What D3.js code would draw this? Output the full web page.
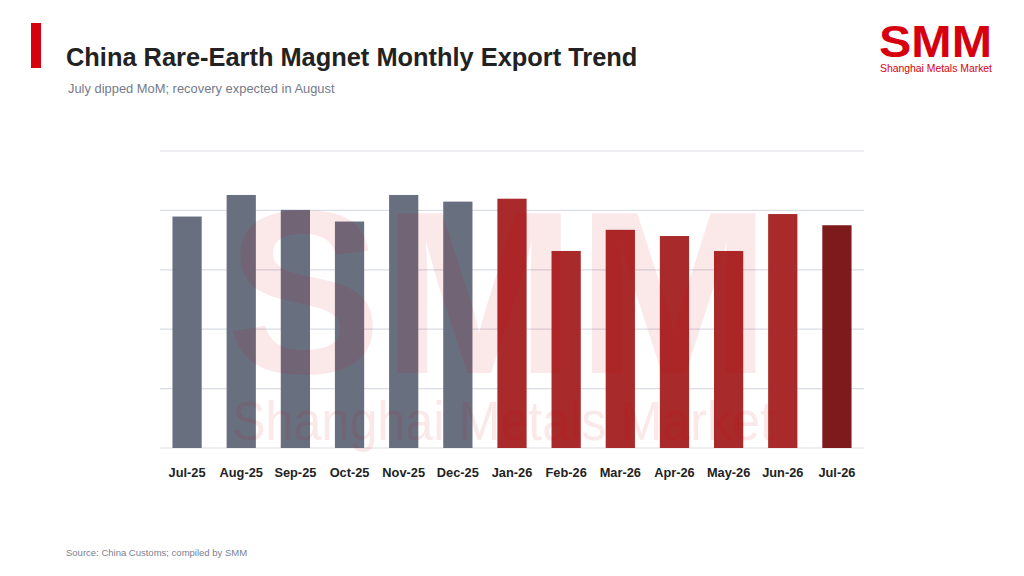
<!DOCTYPE html>
<html>
<head>
<meta charset="utf-8">
<script src="https://cdn.jsdelivr.net/npm/d3@7"></script>
<style>
  body { margin: 0; background: #fff; }
  svg { display: block; font-family: "Liberation Sans", Arial, sans-serif; }
</style>
</head>
<body>
<div class="chart"></div>
<script>
// monthly exports, tonnes
const months = ['Jul-25','Aug-25','Sep-25','Oct-25','Nov-25','Dec-25','Jan-26','Feb-26','Mar-26','Apr-26','May-26','Jun-26','Jul-26'];
const exportsT = [5580, 6100, 5740, 5460, 6100, 5940, 6010, 4750, 5260, 5110, 4750, 5640, 5370];
const gridTicks = [0, 1432, 2864, 4296, 5728, 7160];

const width = 1024, height = 576;
const margin = {top: 151, right: 160, bottom: 128, left: 160};

const svg = d3.select('.chart')
    .append('svg')
    .attr('width', width)
    .attr('height', height);

// header
svg.append('rect')
    .attr('x', 31).attr('y', 23)
    .attr('width', 10).attr('height', 45)
    .attr('fill', '#d7000f');

svg.append('text')
    .attr('x', 66).attr('y', 66)
    .attr('font-size', 25.4).attr('font-weight', 'bold')
    .attr('fill', '#222')
    .text('China Rare-Earth Magnet Monthly Export Trend');

svg.append('text')
    .attr('x', 68).attr('y', 93)
    .attr('font-size', 12.9)
    .attr('fill', '#747a8a')
    .text('July dipped MoM; recovery expected in August');

// logo top right
svg.append('text')
    .attr('x', 879).attr('y', 57)
    .attr('font-size', 44).attr('font-weight', 'bold')
    .attr('textLength', 113).attr('lengthAdjust', 'spacingAndGlyphs')
    .attr('fill', '#d7000f')
    .text('SMM');

svg.append('text')
    .attr('x', 880).attr('y', 72)
    .attr('font-size', 11)
    .attr('textLength', 112).attr('lengthAdjust', 'spacingAndGlyphs')
    .attr('fill', '#d7000f')
    .text('Shanghai Metals Market');

// scales
const x = d3.scaleBand()
    .domain(months)
    .range([margin.left, width - margin.right])
    .paddingInner(0.46)
    .paddingOuter(0.23);

const y = d3.scaleLinear()
    .domain([0, gridTicks[gridTicks.length - 1]])
    .range([height - margin.bottom, margin.top]);

// gridlines
svg.append('g')
    .selectAll('line')
    .data(gridTicks)
    .join('line')
    .attr('x1', margin.left)
    .attr('x2', width - margin.right)
    .attr('y1', d => y(d))
    .attr('y2', d => y(d))
    .attr('stroke', '#dadde6')
    .attr('stroke-width', 1.2);

// bars: 2025 grey, 2026 red, latest month dark red
function barColor(m, i) {
    if (i === months.length - 1) return '#7e1a1c';
    return m.endsWith('-25') ? '#687080' : '#a92a2a';
}

svg.append('g')
    .selectAll('rect')
    .data(months)
    .join('rect')
    .attr('x', d => x(d))
    .attr('y', (d, i) => y(exportsT[i]))
    .attr('width', x.bandwidth())
    .attr('height', (d, i) => y(0) - y(exportsT[i]))
    .attr('fill', (d, i) => barColor(d, i));

// x axis labels
const xAxis = svg.append('g')
    .attr('transform', `translate(0,${y(0)})`)
    .call(d3.axisBottom(x).tickSize(0).tickPadding(20));
xAxis.select('.domain').remove();
xAxis.selectAll('text')
    .attr('font-family', '"Liberation Sans", Arial, sans-serif')
    .attr('font-size', 12.8)
    .attr('font-weight', 'bold')
    .attr('fill', '#222');

// watermark on top, very faint
const wm = svg.append('g').attr('opacity', 0.085).attr('pointer-events', 'none');
wm.append('text')
    .attr('x', 226).attr('y', 373)
    .attr('font-size', 232).attr('font-weight', 'bold')
    .attr('textLength', 545).attr('lengthAdjust', 'spacingAndGlyphs')
    .attr('fill', '#d7000f')
    .text('SMM');
wm.append('text')
    .attr('x', 232).attr('y', 440)
    .attr('font-size', 55)
    .attr('textLength', 542).attr('lengthAdjust', 'spacingAndGlyphs')
    .attr('fill', '#d7000f')
    .text('Shanghai Metals Market');

// footer
svg.append('text')
    .attr('x', 66).attr('y', 556)
    .attr('font-size', 9.5)
    .attr('fill', '#7a8090')
    .text('Source: China Customs; compiled by SMM');
</script>
</body>
</html>
